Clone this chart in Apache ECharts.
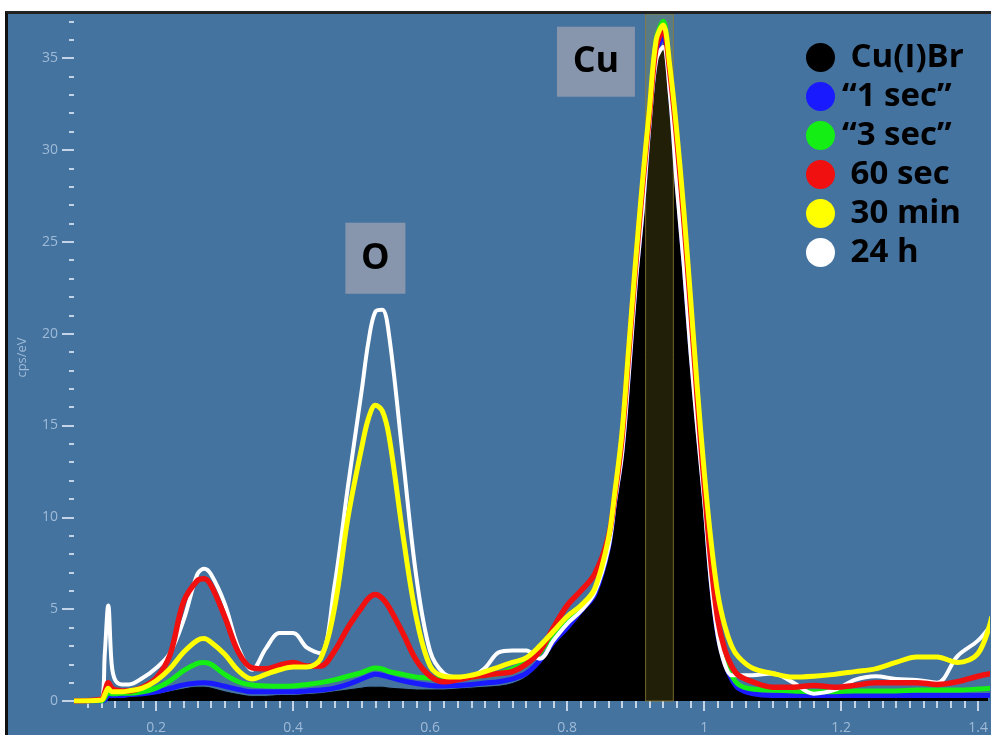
<!DOCTYPE html>
<html lang="en">
<head>
<meta charset="UTF-8">
<title>Cu(I)Br spectra</title>
<style>
  html, body { margin: 0; padding: 0; background: #fff; }
  #frame {
    position: absolute; left: 5px; top: 11px;
    width: 983px; height: 721px;
    border-left: 3px solid #111; border-top: 3px solid #222;
    background: #44739f;
  }
  #main { width: 983px; height: 721px; }
</style>
</head>
<body>
<div id="frame"><div id="main"></div></div>

<script src="https://cdn.jsdelivr.net/npm/echarts@6/dist/echarts.min.js"></script>
<script>
// energy (keV) shared by every curve
var energy = [
  0.08, 0.12, 0.125, 0.13, 0.135, 0.14, 0.15, 0.16, 0.18,
  0.20, 0.22, 0.24, 0.26, 0.27, 0.28, 0.30, 0.32, 0.34, 0.36, 0.38, 0.40, 0.42, 0.44, 0.46, 0.48,
  0.50, 0.51, 0.52, 0.53, 0.54, 0.56, 0.58, 0.60, 0.62, 0.64, 0.66, 0.68, 0.70, 0.72, 0.74, 0.76, 0.78, 0.80, 0.82, 0.84,
  0.86, 0.87, 0.88, 0.89, 0.90, 0.91, 0.92, 0.93, 0.94, 0.95, 0.96, 0.97, 0.98, 0.99, 1.00, 1.01, 1.02, 1.03, 1.04, 1.05,
  1.07, 1.10, 1.13, 1.16, 1.19, 1.22, 1.25, 1.28, 1.31, 1.34, 1.37, 1.40, 1.42
];

var cuBr = [
  0, 0, 0, 0.15, 0.15, 0.15, 0.15, 0.2, 0.3,
  0.35, 0.5, 0.65, 0.75, 0.75, 0.7, 0.5, 0.35, 0.25, 0.25, 0.3, 0.3, 0.35, 0.4, 0.5, 0.6,
  0.7, 0.75, 0.75, 0.75, 0.7, 0.65, 0.6, 0.6, 0.6, 0.65, 0.7, 0.75, 0.8, 0.95, 1.3, 2.0, 3.0, 3.9, 4.7, 5.8,
  8.2, 10.9, 13.4, 17.8, 22.7, 26.5, 31.3, 34.9, 35.4, 33.0, 28.0, 23.8, 19.0, 14.8, 10.9, 6.4, 3.5, 2.0, 1.2, 0.7,
  0.4, 0.25, 0.2, 0.2, 0.2, 0.2, 0.2, 0.2, 0.2, 0.2, 0.2, 0.2, 0.2
];

var sec1 = [
  0, 0, 0.05, 0.3, 0.3, 0.3, 0.3, 0.35, 0.4,
  0.5, 0.68, 0.88, 0.98, 1.0, 0.97, 0.8, 0.63, 0.5, 0.5, 0.5, 0.5, 0.55, 0.6, 0.7, 0.9,
  1.2, 1.35, 1.45, 1.4, 1.3, 1.1, 0.95, 0.85, 0.82, 0.85, 0.9, 0.98, 1.05, 1.2, 1.5, 2.2, 3.2, 4.0, 4.9, 5.8,
  8.3, 11.0, 13.6, 18.1, 23.0, 26.9, 31.6, 35.2, 36.2, 33.4, 28.5, 24.1, 19.4, 15.2, 11.2, 6.6, 3.6, 2.1, 1.2, 0.7,
  0.4, 0.3, 0.3, 0.3, 0.3, 0.3, 0.3, 0.3, 0.3, 0.3, 0.3, 0.3, 0.3
];

var sec3 = [
  0, 0, 0.2, 0.45, 0.4, 0.4, 0.42, 0.42, 0.5,
  0.7, 1.1, 1.65, 2.05, 2.1, 2.0, 1.45, 1.05, 0.87, 0.82, 0.8, 0.82, 0.9, 1.0, 1.15, 1.35,
  1.55, 1.7, 1.8, 1.75, 1.6, 1.45, 1.3, 1.25, 1.2, 1.25, 1.3, 1.4, 1.5, 1.75, 2.1, 2.6, 3.7, 4.3, 5.0, 6.0,
  8.6, 11.3, 14.3, 19.0, 23.7, 28.0, 32.0, 36.0, 37.0, 34.0, 30.0, 25.6, 20.8, 15.9, 11.4, 6.9, 3.9, 2.3, 1.4, 0.9,
  0.65, 0.6, 0.55, 0.5, 0.5, 0.55, 0.55, 0.55, 0.6, 0.6, 0.6, 0.65, 0.7
];

var sec60 = [
  0, 0.1, 0.5, 1.0, 0.7, 0.6, 0.55, 0.55, 0.75,
  1.25, 2.5, 5.4, 6.55, 6.65, 6.3, 4.6, 2.65, 1.8, 1.75, 1.95, 2.1, 1.9, 1.9, 2.7, 4.0,
  5.1, 5.6, 5.8, 5.6, 5.1, 3.7, 2.2, 1.35, 1.05, 1.15, 1.3, 1.4, 1.5, 1.6, 2.0, 2.7, 4.0, 5.2, 6.0, 6.9,
  8.9, 11.3, 14.3, 19.0, 23.7, 28.0, 31.9, 35.6, 36.5, 34.2, 30.6, 26.3, 21.5, 16.4, 11.8, 7.5, 4.4, 2.8, 1.9, 1.4,
  1.05, 0.75, 0.75, 0.85, 0.75, 0.85, 1.0, 1.0, 1.0, 0.9, 1.05, 1.35, 1.5
];

var min30 = [
  0, 0.05, 0.35, 0.7, 0.5, 0.5, 0.5, 0.55, 0.7,
  1.1, 1.75, 2.65, 3.3, 3.4, 3.2, 2.55, 1.65, 1.2, 1.45, 1.7, 1.85, 1.85, 2.3, 5.0, 10.0,
  13.8, 15.4, 16.1, 15.8, 14.4, 9.1, 4.5, 1.9, 1.35, 1.3, 1.4, 1.6, 1.85, 2.1, 2.35, 3.0, 3.8, 4.6, 5.2, 6.1,
  8.8, 11.5, 14.6, 19.3, 24.0, 28.3, 32.2, 36.0, 36.8, 34.5, 31.0, 26.8, 22.0, 17.0, 12.5, 8.7, 5.8, 4.1, 3.0, 2.4,
  1.8, 1.5, 1.3, 1.35, 1.45, 1.6, 1.75, 2.1, 2.4, 2.4, 2.1, 2.6, 4.6
];

var h24 = [
  0, 0.1, 2.6, 5.2, 2.0, 1.15, 0.9, 0.9, 1.25,
  1.8, 2.6, 4.4, 6.9, 7.2, 6.9, 5.3, 2.9, 1.7, 2.85, 3.7, 3.7, 2.9, 2.6, 6.2, 11.7,
  16.9, 19.6, 21.2, 21.3, 19.9, 13.3, 6.7, 2.7, 1.5, 1.3, 1.35, 1.8, 2.65, 2.75, 2.75, 2.3, 3.3, 4.2, 4.9, 5.9,
  8.3, 10.9, 13.4, 17.8, 22.7, 26.6, 31.3, 34.9, 35.6, 33.0, 28.0, 23.8, 19.0, 14.8, 10.9, 6.4, 3.5, 2.0, 1.4, 1.4,
  1.4, 1.5, 1.0, 0.4, 0.6, 1.15, 1.35, 1.2, 1.15, 1.0, 2.45, 3.3, 4.2
];

var seriesNames = ['Cu(I)Br', '\u201C1 sec\u201D', '\u201C3 sec\u201D', '60 sec', '30 min', '24 h'];

var xMajorTicks = [0.2, 0.4, 0.6, 0.8, 1, 1.2, 1.4];
var yMajorTicks = [0, 5, 10, 15, 20, 25, 30, 35];

// peak labels and the Cu window (energy, cps/eV)
var peakNames = ['O', 'Cu'];
var peakCoords = [[0.52, 24.1], [0.842, 34.8]];
var cuWindow = [0.9145, 0.955];

var xMinorTicks = [];
for (var k = 5; k <= 70; k++) {
  if (k % 10 !== 0) xMinorTicks.push(Math.round(k * 2) / 100);
}
var yMinorTicks = [];
for (var j = 1; j <= 37; j++) {
  if (j % 5 !== 0) yMinorTicks.push(j);
}

function pairs(vals) {
  return energy.map(function (x, i) { return [x, vals[i]]; });
}

var tickColor = '#c3d4e6';
var labelColor = '#9fbbd8';

var myChart = echarts.init(document.getElementById('main'));

function lineSeries(name, vals, color, width, z) {
  return {
    name: name,
    type: 'line',
    data: pairs(vals),
    smooth: 0.35,
    symbol: 'none',
    color: color,
    lineStyle: { color: color, width: width },
    z: z
  };
}

var option = {
  animation: false,
  backgroundColor: 'transparent',
  grid: { left: 64, right: 0, top: 0, bottom: 34 },
  legend: {
    data: seriesNames,
    orient: 'vertical',
    left: 793,
    top: 22,
    icon: 'circle',
    itemWidth: 29,
    itemHeight: 29,
    itemGap: 6,
    selectedMode: false,
    formatter: function (n) {
      return n.charAt(0) === '\u201C' ? n : ' ' + n;
    },
    textStyle: {
      color: '#000',
      fontSize: 33,
      fontWeight: 'bold',
      fontFamily: 'Open Sans',
      padding: [0, 0, 0, 2]
    }
  },
  xAxis: [{
    type: 'value',
    min: 0.08,
    max: 1.412,
    position: 'bottom',
    offset: 4,
    axisLine: { show: false },
    splitLine: { show: false },
    axisTick: { customValues: xMajorTicks, length: 10, lineStyle: { color: tickColor, width: 2 } },
    axisLabel: {
      customValues: xMajorTicks,
      margin: 16,
      color: labelColor,
      fontSize: 14,
      fontFamily: 'Open Sans',
      formatter: function (v) { return String(+v.toFixed(1)); }
    }
  }, {
    type: 'value',
    min: 0.08,
    max: 1.412,
    position: 'bottom',
    offset: 4,
    axisLine: { show: false },
    splitLine: { show: false },
    axisTick: { customValues: xMinorTicks, length: 7, lineStyle: { color: tickColor, width: 2 } },
    axisLabel: { show: false }
  }],
  yAxis: [{
    type: 'value',
    min: 0,
    max: 37.4,
    position: 'left',
    name: 'cps/eV',
    nameLocation: 'middle',
    nameGap: 45,
    nameTextStyle: { color: labelColor, fontSize: 13, fontFamily: 'Open Sans' },
    axisLine: { show: false },
    splitLine: { show: false },
    axisTick: { customValues: yMajorTicks, length: 12, lineStyle: { color: tickColor, width: 2 } },
    axisLabel: {
      customValues: yMajorTicks,
      margin: 16,
      color: labelColor,
      fontSize: 14,
      fontFamily: 'Open Sans'
    }
  }, {
    type: 'value',
    min: 0,
    max: 37.4,
    position: 'left',
    axisLine: { show: false },
    splitLine: { show: false },
    axisTick: { customValues: yMinorTicks, length: 5, lineStyle: { color: tickColor, width: 2 } },
    axisLabel: { show: false }
  }],
  series: [
    { // reference spectrum, filled black
      name: seriesNames[0],
      type: 'line',
      data: pairs(cuBr),
      smooth: 0.35,
      symbol: 'none',
      color: '#000',
      lineStyle: { color: '#000', width: 1 },
      areaStyle: { color: '#000', opacity: 1 },
      z: 1
    },
    { // Cu window band and the peak tags
      name: 'window',
      type: 'line',
      data: pairs(cuBr),
      symbol: 'none',
      silent: true,
      lineStyle: { opacity: 0 },
      z: 2,
      markArea: {
        silent: true,
        z: 2,
        itemStyle: {
          color: 'rgba(170,155,45,0.2)',
          borderColor: 'rgba(140,125,50,0.8)',
          borderWidth: 1
        },
        data: [[{ xAxis: cuWindow[0] }, { xAxis: cuWindow[1] }]]
      },
      markPoint: {
        silent: true,
        symbol: 'rect',
        itemStyle: { color: '#8796ad' },
        label: {
          show: true,
          position: 'inside',
          color: '#000',
          fontSize: 36,
          fontWeight: 'bold',
          fontFamily: 'Open Sans',
          formatter: function (p) { return p.name; }
        },
        data: peakNames.map(function (n, i) {
          return { name: n, coord: peakCoords[i], symbolSize: i === 0 ? [60, 71] : [78, 70] };
        })
      }
    },
    lineSeries(seriesNames[1], sec1, '#1a1aff', 5, 3),
    lineSeries(seriesNames[2], sec3, '#14ee14', 5, 4),
    lineSeries(seriesNames[5], h24, '#ffffff', 4, 5),
    lineSeries(seriesNames[3], sec60, '#f01010', 5.5, 6),
    lineSeries(seriesNames[4], min30, '#ffff00', 5, 7)
  ]
};

myChart.setOption(option);
</script>
</body>
</html>
